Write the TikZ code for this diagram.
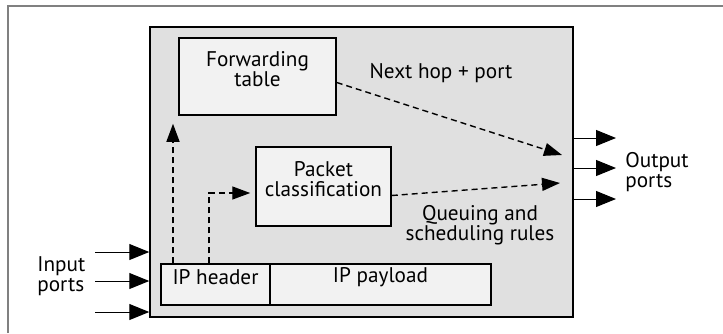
\documentclass[tikz,border=0pt]{standalone}
\usepackage{fontspec}
\setmainfont{PT Sans}
\usetikzlibrary{arrows.meta,fit,calc}
\tikzset{
	box/.style={draw,line width=0.75pt,fill=gray!10,inner sep=0pt,align=center},
	dashline/.style={line width=0.7pt,dash pattern=on 3pt off 2pt,-{Triangle[length=9pt,width=6.5pt]}},
	portline/.style={line width=0.5pt,-{Triangle[length=10pt,width=8pt]}},
	txt/.style={align=center,inner sep=0pt}
}
\begin{document}
\begin{tikzpicture}[x=0.5pt,y=-0.5pt,font=\fontsize{10.6}{10}\selectfont]
	\useasboundingbox (0,0) rectangle (723,333);
	\draw[gray,line width=0.6pt] (8,333)--(8,6)--(723,6);
	% router block and its parts
	\node[box,fill=gray!24,fit={(150,27)(573,317)}] (router) {};
	\node[box,fit={(179,38)(336,115)}] (ft) {Forwarding\\table};
	\node[box,fit={(256,147)(391,226)}] (pc) {Packet\\classification};
	\node[box,fit={(161,264)(270,305)}] (hdr) {IP header};
	\node[box,fit={(270,264)(491,305)}] (pay) {IP payload};
	% labels
	\path (441,73) node[txt] (nh) {Next hop + port}
		(480,225) node[txt] (qs) {Queuing and\\scheduling rules}
		(625,172) node[txt,anchor=west,align=left] (op) {Output\\ports}
		(37,276) node[txt,anchor=west,align=left] (ip) {Input\\ports};
	% dashed flows
	\coordinate (u) at (173,0);
	\coordinate (v) at (209,193);
	\coordinate (o1) at (562,155);
	\coordinate (o2) at (560,183);
	\draw[dashline,shorten >=4pt] (hdr.north-|u)--(ft.south-|u);
	\draw[dashline,shorten >=2.5pt] (hdr.north-|v)|-(pc.west|-v);
	\draw[dashline] ($(ft.east)+(0,6)$)--(o1);
	\draw[dashline] ($(pc.east)+(0,9)$)--(o2);
	% ports
	\foreach \y in {252,281,312}
		\draw[portline] (95,\y)--(router.west|-0,\y);
	\foreach \y in {138,168,199}
		\draw[portline] (router.east|-0,\y)--(616,\y);
\end{tikzpicture}
\end{document}
